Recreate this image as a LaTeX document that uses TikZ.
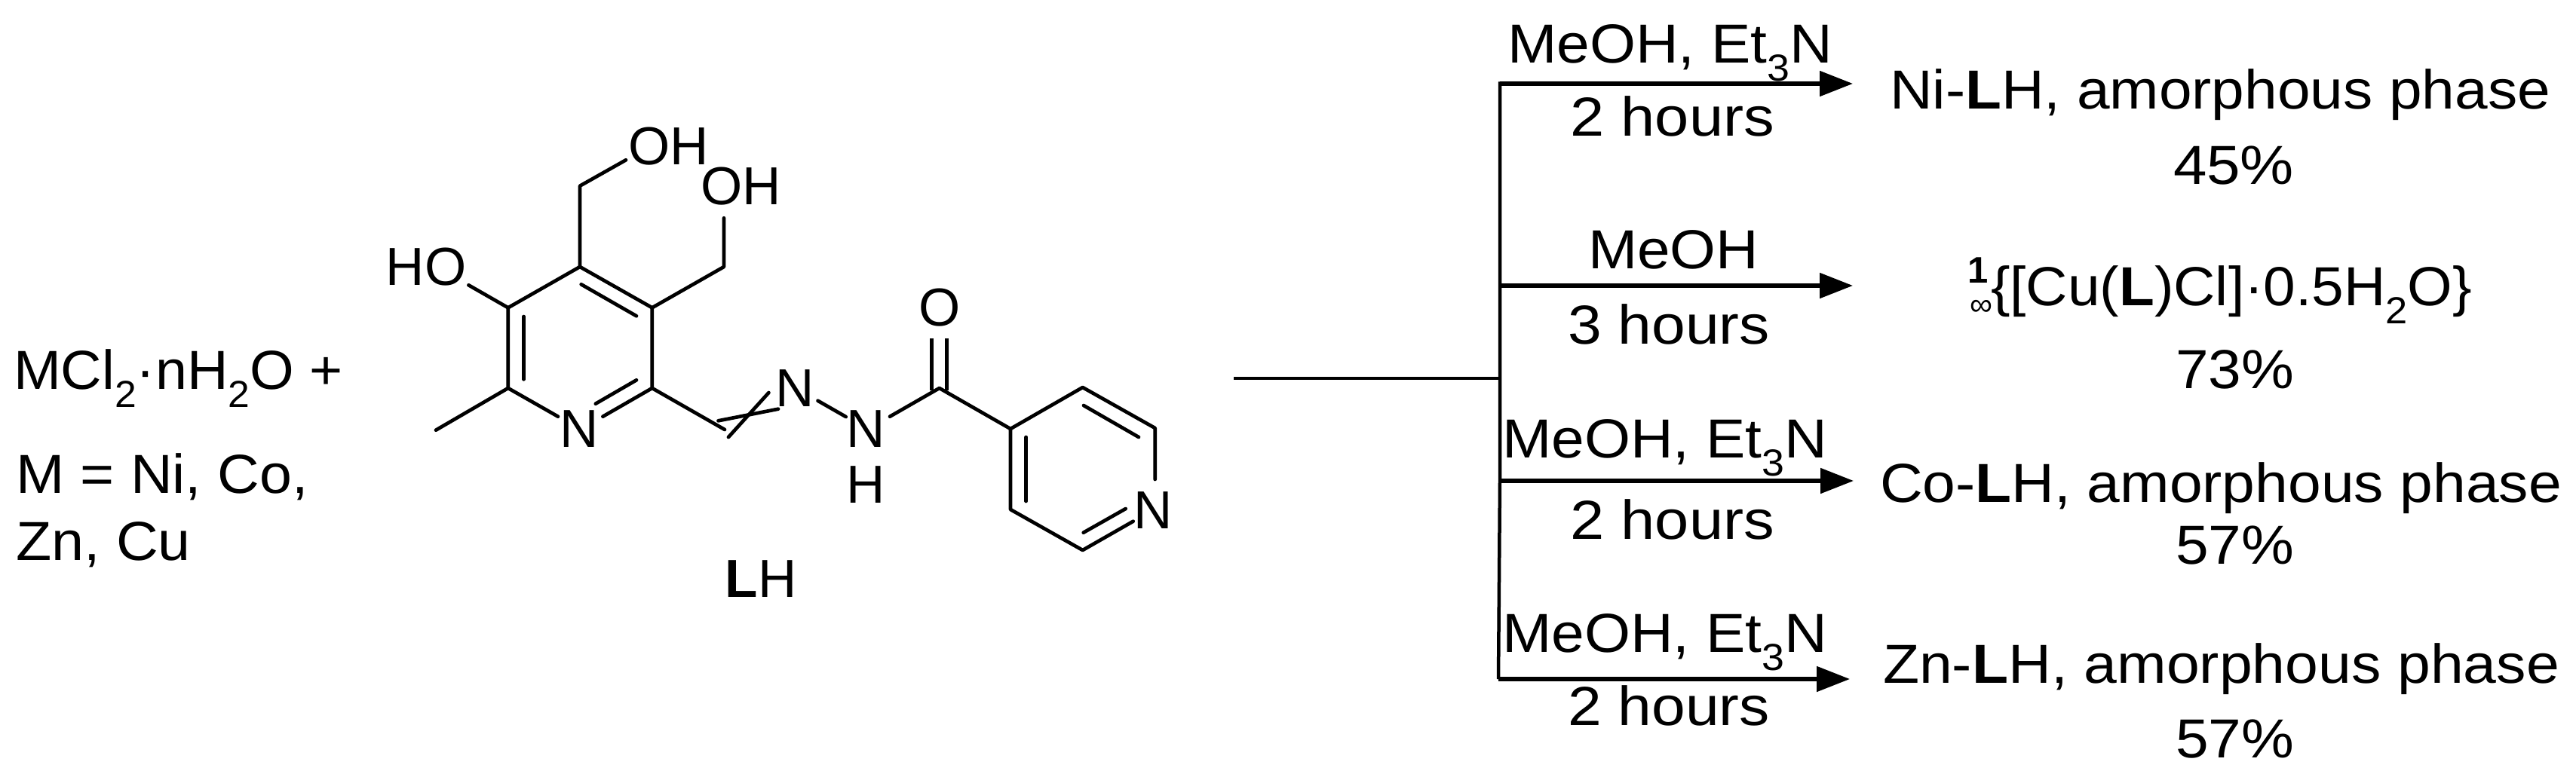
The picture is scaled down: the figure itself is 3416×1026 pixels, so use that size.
\documentclass[tikz,border=0pt]{standalone}
\usepackage{fontspec}
\usepackage{graphicx}
\setmainfont{Liberation Sans}
\usetikzlibrary{arrows.meta}
\newcommand{\dn}[1]{\raisebox{-24pt}{\fontsize{50}{50}\selectfont #1}}
\newcommand{\fw}[2]{\resizebox{#1pt}{\height}{#2}}
\tikzset{
  txt/.style={inner sep=0pt,outer sep=0pt,anchor=base west,font=\fontsize{73}{80}\selectfont},
  atom/.style={inner sep=0pt,outer sep=0pt,anchor=center,font=\fontsize{71}{80}\selectfont},
  bond/.style={draw=black,line width=4.7pt,line cap=round,line join=round},
  trunk/.style={draw=black,line width=4.5pt},
  arrowline/.style={draw=black,line width=5.2pt,-{Triangle[length=44pt,width=33pt]}}
}
\begin{document}
\begin{tikzpicture}[x=1pt,y=-1pt]
\useasboundingbox (0,0) rectangle (3416,1026);
\fill[white] (0,0) rectangle (3416,1026);
% reagents
\node[txt] (reag) at (18,516) {\fw{437}{MCl\dn{2}·nH\dn{2}O +}};
\node[txt] (mlist) at (21,654) {\fw{388}{M = Ni, Co,}};
\node[txt] (mlist2) at (21,743) {\fw{232}{Zn, Cu}};
% ring atoms
\coordinate (a1) at (673.8,408.3);
\coordinate (a2) at (769,354);
\coordinate (a3) at (864.8,408.3);
\coordinate (a4) at (864.8,515);
\coordinate (a6) at (673.8,515);
\coordinate (me) at (578,570.7);
\coordinate (ch1) at (769,246.7);
\coordinate (ch1e) at (830,212.3);
\coordinate (ch2) at (960,354);
\coordinate (ch2e) at (960,289.3);
\coordinate (hoe) at (621.4,378.3);
\coordinate (ne) at (740,552.7);
\coordinate (ne2) at (799.4,552.7);
\coordinate (ch) at (961,570);
\coordinate (x1a) at (952.5,558.3);
\coordinate (x1b) at (1032,542.7);
\coordinate (x2a) at (966,580);
\coordinate (x2b) at (1019.4,521);
\coordinate (nn1) at (1084.5,531.7);
\coordinate (nn2) at (1121.7,553);
\coordinate (nc1) at (1180,552.7);
\coordinate (co) at (1245.7,515);
\coordinate (o1a) at (1235.7,449);
\coordinate (o1b) at (1235.7,518);
\coordinate (o2a) at (1255.3,449);
\coordinate (o2b) at (1255.3,518);
\coordinate (b1) at (1340,569);
\coordinate (b2) at (1435.7,514);
\coordinate (b3) at (1531.7,568);
\coordinate (b3e) at (1531.7,636);
\coordinate (b5) at (1435.7,730);
\coordinate (b5e) at (1502.7,691.7);
\coordinate (b6) at (1340,676);
% inner double-bond lines
\coordinate (i1a) at (694.5,420);
\coordinate (i1b) at (694.5,503.3);
\coordinate (i2a) at (770.7,377.3);
\coordinate (i2b) at (844,419.3);
\coordinate (i3a) at (789.8,535.7);
\coordinate (i3b) at (844,504.3);
\coordinate (i4a) at (1437,538);
\coordinate (i4b) at (1510,580);
\coordinate (i5a) at (1360.7,580);
\coordinate (i5b) at (1360.7,665);
\coordinate (i6a) at (1436.7,706.7);
\coordinate (i6b) at (1492.7,675);
% atom labels
\node[atom] (oh1) at (887,194) {OH};
\node[atom] (oh2) at (983,247) {OH};
\node[atom] (ho) at (565,354) {HO};
\node[atom] (n1) at (768,569) {N};
\node[atom] (n2) at (1054,515) {N};
\node[atom] (n3) at (1148,569.5) {N};
\node[atom] (h3) at (1148,643) {H};
\node[atom] (ox) at (1245.7,408) {O};
\node[atom] (n4) at (1529,676.7) {N};
\node[atom] (lh) at (1009,768) {\textbf{L}H};
% bonds
\path[bond] (hoe) -- (a1) -- (a2) -- (a3) -- (a4) -- (ne2);
\path[bond] (ne) -- (a6) -- (a1);
\path[bond] (a6) -- (me);
\path[bond] (a2) -- (ch1) -- (ch1e);
\path[bond] (a3) -- (ch2) -- (ch2e);
\path[bond] (a4) -- (ch);
\path[bond] (x1a) -- (x1b);
\path[bond] (x2a) -- (x2b);
\path[bond] (nn1) -- (nn2);
\path[bond] (nc1) -- (co) -- (b1) -- (b2) -- (b3) -- (b3e);
\path[bond] (b1) -- (b6) -- (b5) -- (b5e);
\path[bond,line cap=butt] (o1a) -- (o1b);
\path[bond,line cap=butt] (o2a) -- (o2b);
\path[bond] (i1a) -- (i1b);
\path[bond] (i2a) -- (i2b);
\path[bond] (i3a) -- (i3b);
\path[bond] (i4a) -- (i4b);
\path[bond] (i5a) -- (i5b);
\path[bond] (i6a) -- (i6b);
% scheme lines
\coordinate (start) at (1636,502);
\coordinate (j0) at (1989,502);
\coordinate (j1) at (1989,111);
\coordinate (j2) at (1989,379);
\coordinate (j3) at (1989,638);
\coordinate (j4) at (1987,901);
\coordinate (t1) at (2457,111);
\coordinate (t2) at (2457,379);
\coordinate (t3) at (2458,638);
\coordinate (t4) at (2453,901);
\path[trunk] (start) -- (j0);
\path[trunk] ([yshift=2.6pt]j1) -- (j3) -- (j4);
\path[arrowline] (j1) -- (t1);
\path[arrowline] (j2) -- (t2);
\path[arrowline] (j3) -- (t3);
\path[arrowline] (j4) -- (t4);
% conditions
\node[txt] (c1) at (1999,83) {\fw{431}{MeOH, Et\dn{3}N}};
\node[txt] (d1) at (2082,180) {\fw{271}{2 hours}};
\node[txt] (c2) at (2106,356) {\fw{226}{MeOH}};
\node[txt] (d2) at (2079,456) {\fw{268}{3 hours}};
\node[txt] (c3) at (1992,607) {\fw{431}{MeOH, Et\dn{3}N}};
\node[txt] (d3) at (2082,715) {\fw{271}{2 hours}};
\node[txt] (c4) at (1992,865) {\fw{431}{MeOH, Et\dn{3}N}};
\node[txt] (d4) at (2079,962) {\fw{268}{2 hours}};
% products
\node[txt] (p1) at (2506,144) {\fw{876}{Ni-\textbf{L}H, amorphous phase}};
\node[txt] (y1) at (2882,244) {\fw{160}{45\%}};
\node[txt,font=\fontsize{49}{50}\selectfont\bfseries] (one) at (2609,375) {1};
\node[txt,font=\fontsize{42}{50}\selectfont] (inf) at (2612,418) {∞};
\node[txt] (p2) at (2640,405) {\fw{638}{\{[Cu(\textbf{L})Cl]·0.5H\dn{2}O\}}};
\node[txt] (y2) at (2885,515) {\fw{157}{73\%}};
\node[txt] (p3) at (2493,666) {\fw{904}{Co-\textbf{L}H, amorphous phase}};
\node[txt] (y3) at (2885,748) {\fw{157}{57\%}};
\node[txt] (p4) at (2497,906) {\fw{897}{Zn-\textbf{L}H, amorphous phase}};
\node[txt] (y4) at (2885,1005) {\fw{157}{57\%}};
\end{tikzpicture}
\end{document}
